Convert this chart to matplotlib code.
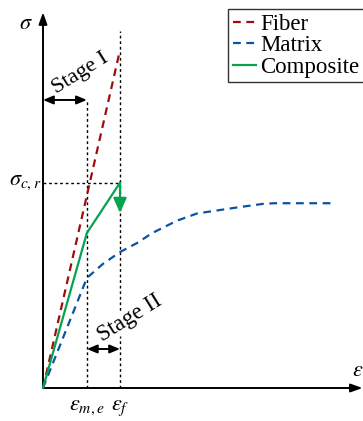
import matplotlib
matplotlib.use('Agg')
import matplotlib.pyplot as plt

plt.rcParams['font.family'] = ['Liberation Serif', 'DejaVu Serif']
plt.rcParams['mathtext.fontset'] = 'stix'

# characteristic strains / stress (normalised so eps_f = 1, sigma_cr = 1)
eps_me = 0.57
eps_f = 1.0
sig_cr = 1.0

fiber_eps = [0.0, 1.0]
fiber_sig = [0.0, 1.646]

matrix_eps = [0.0, 0.57, 0.78, 1.0, 1.22, 1.42, 1.74, 2.0, 2.21, 2.53, 2.86, 3.0, 3.77]
matrix_sig = [0.0, 0.536, 0.605, 0.662, 0.706, 0.755, 0.815, 0.85, 0.862, 0.88, 0.897, 0.90, 0.90]

comp_eps = [0.0, 0.57, 1.0]
comp_sig = [0.0, 0.755, 1.0]
comp_drop = 0.852

labels = ['Fiber', 'Matrix', 'Composite']
colors = ['#a00c0c', '#0a52a3', '#07a24f']

fig = plt.figure(figsize=(3.63, 4.21), dpi=100)
ax = fig.add_axes([0, 0, 1, 1])
ax.set_xlim(-43 / 77, 320 / 77)
ax.set_ylim(-33 / 205.3, 388 / 205.3)
ax.axis('off')

# coordinate axes with arrow heads
ax.annotate('', xy=(0, 1.83), xytext=(0, 0),
            arrowprops=dict(arrowstyle='-|>,head_length=0.7,head_width=0.25', color='black', lw=1.4,
                            shrinkA=0, shrinkB=0))
ax.annotate('', xy=(4.15, 0), xytext=(0, 0),
            arrowprops=dict(arrowstyle='-|>,head_length=0.7,head_width=0.25', color='black', lw=1.4,
                            shrinkA=0, shrinkB=0))

# guide lines
dot = dict(color='black', lw=1.0, linestyle=(0, (2, 2)), zorder=1)
ax.plot([eps_me, eps_me], [0, 1.403], **dot)
ax.plot([eps_f, eps_f], [0, 1.74], **dot)
ax.plot([0, eps_f], [sig_cr, sig_cr], **dot)

ax.plot(fiber_eps, fiber_sig, color=colors[0], lw=1.6, linestyle=(0, (3.5, 2.5)), label=labels[0], zorder=3)
ax.plot(matrix_eps, matrix_sig, color=colors[1], lw=1.6, linestyle=(0, (3.5, 2.5)), label=labels[1], zorder=3)
ax.plot(comp_eps, comp_sig, color=colors[2], lw=1.6, label=labels[2], zorder=4)
ax.annotate('', xy=(eps_f, comp_drop), xytext=(comp_eps[-1], comp_sig[-1]),
            arrowprops=dict(arrowstyle='-|>,head_length=0.9,head_width=0.4', color=colors[2], lw=1.6,
                            shrinkA=0, shrinkB=0), zorder=4)

# stage markers
stage = dict(arrowstyle='<|-|>,head_length=0.6,head_width=0.25', color='black', lw=1.4, shrinkA=0, shrinkB=0)
ax.annotate('', xy=(0, 1.403), xytext=(eps_me, 1.403), arrowprops=stage, zorder=6)
ax.annotate('', xy=(eps_me, 0.19), xytext=(eps_f, 0.19), arrowprops=stage, zorder=6)
ax.text(0.48, 1.53, 'Stage I', rotation=32, fontsize=16, ha='center', va='center')
ax.text(1.13, 0.34, 'Stage II', rotation=32, fontsize=16.5, ha='center', va='center',
        bbox=dict(facecolor='white', edgecolor='none', pad=0), zorder=5)

# symbols
ax.text(-0.22, 1.77, r'$\sigma$', fontsize=16, ha='center', va='center')
ax.text(-0.02, sig_cr, r'$\sigma_{c,r}$', fontsize=16, ha='right', va='center')
ax.text(4.09, 0.08, r'$\varepsilon$', fontsize=16, ha='center', va='center')
ax.text(eps_me, -0.05, r'$\varepsilon_{m,e}$', fontsize=16, ha='center', va='top')
ax.text(eps_f, -0.05, r'$\varepsilon_f$', fontsize=16, ha='center', va='top')

leg = ax.legend(loc='upper left', bbox_to_anchor=(228 / 363, 1 - 9 / 421), bbox_transform=fig.transFigure,
                fontsize=16.5, frameon=True, fancybox=False, handlelength=1.0, handletextpad=0.2,
                labelspacing=0.02, borderpad=0.2, borderaxespad=0)
leg.get_frame().set_edgecolor('black')
leg.get_frame().set_linewidth(1.0)

fig.savefig('out.png', dpi=100)
